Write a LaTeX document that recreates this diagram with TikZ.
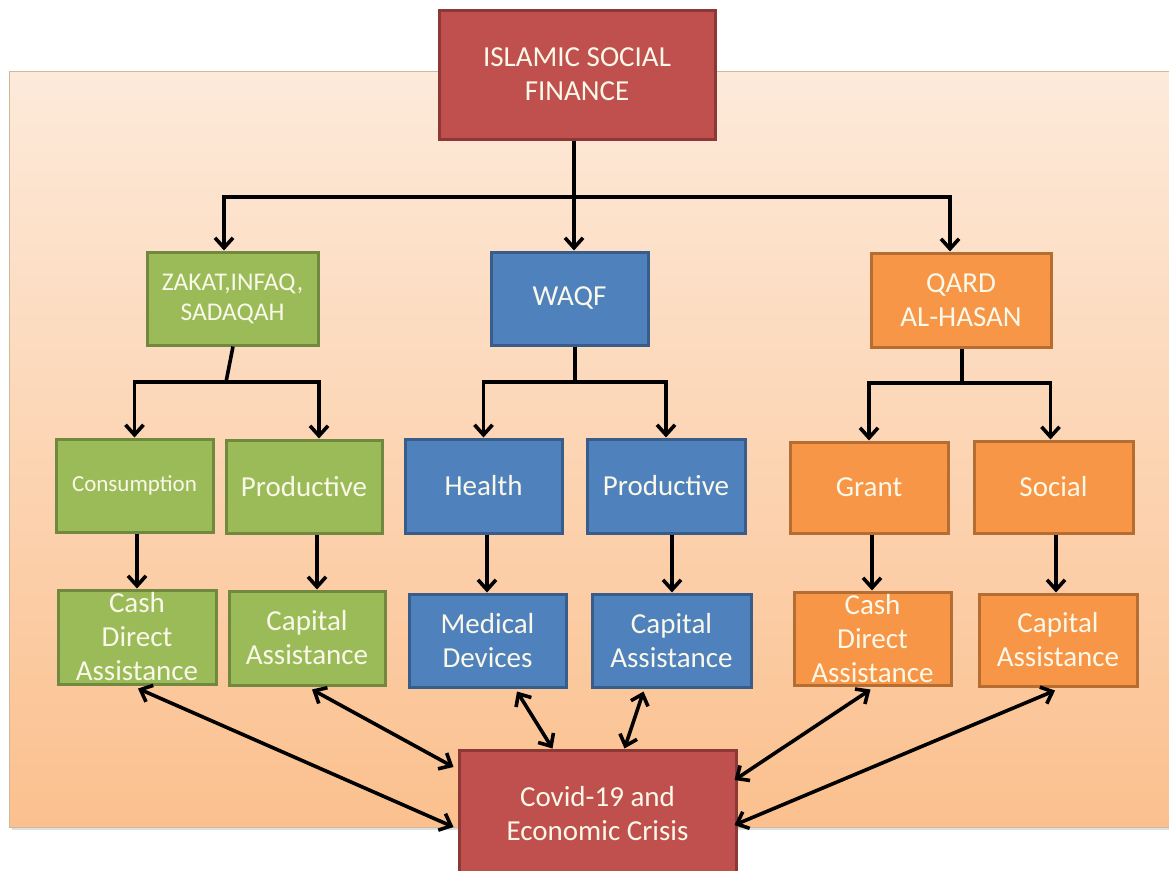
\documentclass[tikz,border=0pt]{standalone}
\usepackage{fontspec}
\setmainfont{Carlito}
\usetikzlibrary{arrows.meta}
\definecolor{bgtop}{RGB}{253,234,218}
\definecolor{bgbot}{RGB}{251,192,142}
\definecolor{bgline}{RGB}{205,185,155}
\definecolor{redfill}{RGB}{192,80,77}
\definecolor{redline}{RGB}{140,56,54}
\definecolor{greenfill}{RGB}{155,187,89}
\definecolor{greenline}{RGB}{113,137,63}
\definecolor{bluefill}{RGB}{79,129,189}
\definecolor{blueline}{RGB}{56,93,138}
\definecolor{orangefill}{RGB}{247,150,70}
\definecolor{orangeline}{RGB}{182,109,49}
\definecolor{boxtext}{RGB}{250,248,232}
\tikzset{
  box/.style={draw, line width=3pt, inner sep=0pt, align=center, text=boxtext,
    font=\fontsize{29}{34}\selectfont},
  redbox/.style={box, fill=redfill, draw=redline},
  greenbox/.style={box, fill=greenfill, draw=greenline},
  bluebox/.style={box, fill=bluefill, draw=blueline},
  orangebox/.style={box, fill=orangefill, draw=orangeline},
  conn/.style={line width=3.6pt, black},
  arr/.style={conn, -{Straight Barb[length=10pt,width=18pt,line width=3.6pt]}},
  darr/.style={conn, {Straight Barb[length=10pt,width=18pt,line width=3.6pt]}-{Straight Barb[length=10pt,width=18pt,line width=3.6pt]}},
}
\begin{document}
\begin{tikzpicture}[x=1pt,y=-1pt]
\useasboundingbox (0,0) rectangle (1169,870);
% background panel
\fill[black!25, opacity=0.5] (12,75) rectangle (1175,830);
\shade[top color=bgtop, bottom color=bgbot, draw=bgline, line width=1pt] (9,71) rectangle (1175,827);

% top
\node[redbox, minimum width=276pt, minimum height=129pt] (isf) at (577,74.5) {ISLAMIC SOCIAL\\FINANCE};

% second level
\node[greenbox, minimum width=171pt, minimum height=93pt, font=\fontsize{25.5}{30}\selectfont] (zakat) at (232.5,298.5) {ZAKAT,INFAQ,\\SADAQAH};
\node[bluebox, minimum width=157pt, minimum height=93pt] (waqf) at (569.5,298.5) {WAQF};
\node[orangebox, minimum width=180pt, minimum height=94pt] (qard) at (961,300) {QARD\\AL-HASAN};

% third level
\node[greenbox, minimum width=157pt, minimum height=93pt, font=\fontsize{23}{28}\selectfont] (cons) at (134.5,485.5) {Consumption};
\node[greenbox, minimum width=156pt, minimum height=93pt] (prodg) at (304,486.5) {Productive};
\node[bluebox, minimum width=157pt, minimum height=94pt] (health) at (483.5,486) {Health};
\node[bluebox, minimum width=158pt, minimum height=94pt] (prodb) at (666,486) {Productive};
\node[orangebox, minimum width=158pt, minimum height=91pt] (grant) at (869,487.5) {Grant};
\node[orangebox, minimum width=159pt, minimum height=92pt] (social) at (1053.5,487) {Social};

% fourth level
\node[greenbox, minimum width=158pt, minimum height=94pt, inner ysep=-3pt] (cashg) at (137,637) {Cash\\Direct\\Assistance};
\node[greenbox, minimum width=156pt, minimum height=94pt] (capg) at (307,638) {Capital\\Assistance};
\node[bluebox, minimum width=157pt, minimum height=93pt] (med) at (487.5,640.5) {Medical\\Devices};
\node[bluebox, minimum width=159pt, minimum height=93pt] (capb) at (671.5,640.5) {Capital\\Assistance};
\node[orangebox, minimum width=157pt, minimum height=93pt, inner ysep=-3pt] (casho) at (872.5,638.5) {Cash\\Direct\\Assistance};
\node[orangebox, minimum width=158pt, minimum height=92pt] (capo) at (1058,640) {Capital\\Assistance};

% bottom
\node[redbox, minimum width=277pt, minimum height=128pt] (covid) at (597.5,814) {Covid-19 and\\Economic Crisis};

% junctions
\coordinate (j1) at (574,197);
\coordinate (j2) at (226,382);
\coordinate (j3) at (575,382);
\coordinate (j4) at (962,383);

% level 1 -> 2
\draw[conn] ([xshift=-3pt]isf.south) -- (j1);
\draw[arr] (j1) -| ([xshift=-8.5pt]zakat.north);
\draw[arr] (j1) -- (j1 |- waqf.north);
\draw[arr] (j1) -| ([xshift=-11pt]qard.north);

% zakat branch
\draw[conn] ([xshift=0.5pt]zakat.south) -- (j2);
\draw[arr] (j2) -| (cons.north);
\draw[arr] (j2) -| ([xshift=15pt]prodg.north);

% waqf branch
\draw[conn] ([xshift=5.5pt]waqf.south) -- (j3);
\draw[arr] (j3) -| (health.north);
\draw[arr] (j3) -| (prodb.north);

% qard branch
\draw[conn] ([xshift=1pt]qard.south) -- (j4);
\draw[arr] (j4) -| (grant.north);
\draw[arr] (j4) -| ([xshift=-3pt]social.north);

% level 3 -> 4
\draw[arr] ([xshift=2.5pt]cons.south) -- ([xshift=2.5pt]cons.south |- cashg.north);
\draw[arr] ([xshift=13pt]prodg.south) -- ([xshift=13pt]prodg.south |- capg.north);
\draw[arr] ([xshift=3.5pt]health.south) -- ([xshift=3.5pt]health.south |- med.north);
\draw[arr] ([xshift=6pt]prodb.south) -- ([xshift=6pt]prodb.south |- capb.north);
\draw[arr] ([xshift=3pt]grant.south) -- ([xshift=3pt]grant.south |- casho.north);
\draw[arr] ([xshift=2.5pt]social.south) -- ([xshift=2.5pt]social.south |- capo.north);

% level 4 <-> covid
\draw[darr] ([xshift=1pt,yshift=-3pt]cashg.south) -- ([xshift=-4pt,yshift=-13pt]covid.west);
\draw[darr] ([xshift=5pt,yshift=-3pt]capg.south) -- ([xshift=-4pt,yshift=47pt]covid.west);
\draw[darr] ([xshift=29.5pt,yshift=-3pt]med.south) -- ([xshift=-45pt]covid.north);
\draw[darr] ([xshift=-28pt,yshift=-3pt]capb.south) -- ([xshift=27pt]covid.north);
\draw[darr] ([xshift=-2pt,yshift=-3pt]casho.south) -- ([xshift=-3pt,yshift=34pt]covid.east);
\draw[darr] ([xshift=-3pt,yshift=-3pt]capo.south) -- ([xshift=-3pt,yshift=-11pt]covid.east);
\end{tikzpicture}
\end{document}
